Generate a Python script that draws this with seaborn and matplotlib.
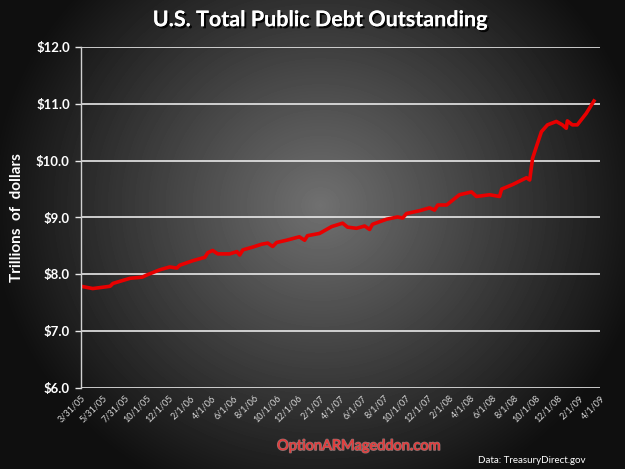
import numpy as np
import pandas as pd
import matplotlib
matplotlib.use("Agg")
import matplotlib.pyplot as plt
import matplotlib.dates as mdates
import matplotlib.patheffects as pe
from matplotlib.ticker import FixedLocator, FuncFormatter
import seaborn as sns

# --- data (trillions of dollars) ---
dates = [
    "2005-03-31", "2005-05-03", "2005-06-21", "2005-06-29", "2005-08-16",
    "2005-09-19", "2005-10-03", "2005-11-08", "2005-12-06", "2005-12-26",
    "2006-01-03", "2006-02-09", "2006-03-15", "2006-03-23", "2006-04-06",
    "2006-04-20", "2006-05-24", "2006-06-13", "2006-06-21", "2006-06-30",
    "2006-07-28", "2006-08-22", "2006-09-08", "2006-09-22", "2006-10-03",
    "2006-10-31", "2006-12-06", "2006-12-21", "2006-12-29", "2007-02-01",
    "2007-03-07", "2007-04-07", "2007-04-21", "2007-05-16", "2007-06-08",
    "2007-06-22", "2007-06-30", "2007-08-09", "2007-09-09", "2007-09-23",
    "2007-10-04", "2007-11-10", "2007-12-08", "2007-12-22", "2007-12-31",
    "2008-01-25", "2008-03-01", "2008-04-04", "2008-04-18", "2008-05-25",
    "2008-06-22", "2008-06-28", "2008-07-29", "2008-09-06", "2008-09-15",
    "2008-09-23", "2008-10-04", "2008-10-18", "2008-11-04", "2008-11-29",
    "2008-12-16", "2008-12-27", "2008-12-30", "2009-01-13", "2009-01-27",
    "2009-02-21", "2009-03-15",
]
debt = [
    7.79, 7.75, 7.79, 7.84, 7.93,
    7.95, 7.99, 8.08, 8.13, 8.11,
    8.16, 8.24, 8.30, 8.38, 8.42,
    8.36, 8.36, 8.40, 8.34, 8.43,
    8.48, 8.53, 8.55, 8.49, 8.56,
    8.60, 8.66, 8.60, 8.68, 8.72,
    8.84, 8.90, 8.83, 8.81, 8.85,
    8.79, 8.88, 8.97, 9.01, 8.99,
    9.07, 9.12, 9.17, 9.13, 9.22,
    9.22, 9.40, 9.45, 9.37, 9.40,
    9.37, 9.50, 9.58, 9.70, 9.66,
    10.04, 10.25, 10.51, 10.63, 10.69,
    10.63, 10.57, 10.70, 10.63, 10.63,
    10.83, 11.05,
]
tick_dates = [
    "2005-03-31", "2005-05-31", "2005-07-31", "2005-10-01", "2005-12-01",
    "2006-02-01", "2006-04-01", "2006-06-01", "2006-08-01", "2006-10-01",
    "2006-12-01", "2007-02-01", "2007-04-01", "2007-06-01", "2007-08-01",
    "2007-10-01", "2007-12-01", "2008-02-01", "2008-04-01", "2008-06-01",
    "2008-08-01", "2008-10-01", "2008-12-01", "2009-02-01", "2009-04-01",
]

df = pd.DataFrame({"date": pd.to_datetime(dates), "debt": debt})
ticks = pd.to_datetime(tick_dates)

FONT = ["Lato", "DejaVu Sans"]
plt.rcParams['font.family'] = FONT

fig = plt.figure(figsize=(6.25, 4.69), dpi=100)

# --- radial gradient background ---
bg = fig.add_axes([0, 0, 1, 1], zorder=-10)
yy, xx = np.mgrid[0:469, 0:625]
d = np.sqrt(((xx - 320) / 1.0) ** 2 + ((yy - 205) / 0.95) ** 2)
shade = np.clip(0.44 - 0.38 * (d / 330), 0.06, 1)
bg.imshow(shade, cmap='gray', vmin=0, vmax=1, aspect='auto', interpolation='bilinear')
bg.axis('off')

ax = fig.add_axes([81 / 625, 81 / 469, 519 / 625, 341 / 469])
ax.patch.set_alpha(0)

sns.lineplot(data=df, x="date", y="debt", ax=ax, color="#e80000", linewidth=2.6)

ax.set_ylim(6, 12)
ax.set_yticks(np.arange(6, 12.1, 1))
ax.yaxis.set_major_formatter(FuncFormatter(lambda v, p: f"${v:.1f}"))
ax.set_xlim(pd.Timestamp("2005-03-31"), pd.Timestamp("2009-04-01"))
ax.xaxis.set_major_locator(FixedLocator(mdates.date2num(ticks)))
ax.set_xticklabels([f"{t.month}/{t.day}/{t.strftime('%y')}" for t in ticks],
                   rotation=45, ha='right', rotation_mode='anchor')

ax.grid(axis='y', color='#e8e8e8', linewidth=1.2)
ax.grid(axis='x', visible=False)
for s in ['top', 'right', 'bottom']:
    ax.spines[s].set_visible(False)
ax.spines['left'].set_color('#d0d0d0')
ax.spines['left'].set_linewidth(1.0)
ax.tick_params(axis='y', colors='#e8e8e8', length=4, width=1, labelsize=9.5, pad=4)
ax.tick_params(axis='x', colors='#d8d8d8', length=0, labelsize=6.5, pad=4)
for lbl in ax.get_yticklabels():
    lbl.set_fontweight('bold')
    lbl.set_color('white')
ax.set_xlabel("")
ax.set_ylabel("Trillions  of  dollars", color='white', fontsize=11, fontweight='bold', labelpad=9)

shadow = [pe.withSimplePatchShadow(offset=(1.5, -1.5), shadow_rgbFace='black', alpha=0.9), pe.Normal()]
fig.text(0.512, 0.958, "U.S. Total Public Debt Outstanding", color='white', fontsize=15.5,
         fontweight='bold', ha='center', va='center', path_effects=shadow)

fig.text(0.575, 0.049, "OptionARMageddon.com", color='#e23c3c', fontsize=10.5,
         ha='center', va='center',
         path_effects=[pe.withStroke(linewidth=1.2, foreground='#f4c0c0', alpha=0.5), pe.Normal()])
fig.text(0.85, 0.018, "Data: TreasuryDirect.gov", color='white', fontsize=7,
         ha='center', va='center')

fig.savefig("out.png", dpi=100)
